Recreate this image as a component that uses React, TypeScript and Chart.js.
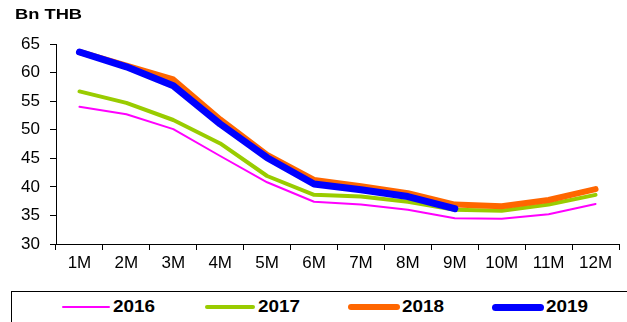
import React, { useEffect, useRef } from 'react';
import { Chart, registerables } from 'chart.js';

Chart.register(...registerables);

const months = ['1M', '2M', '3M', '4M', '5M', '6M', '7M', '8M', '9M', '10M', '11M', '12M'];
const s2016 = [54.0, 52.7, 50.1, 45.4, 40.8, 37.4, 36.9, 36.0, 34.5, 34.4, 35.2, 37.0];
const s2017 = [56.7, 54.7, 51.7, 47.6, 41.9, 38.6, 38.3, 37.4, 36.0, 35.8, 36.9, 38.6];
const s2018 = [63.6, 61.2, 58.8, 51.8, 45.6, 41.2, 40.1, 38.9, 36.9, 36.6, 37.7, 39.6];
const s2019 = [63.6, 61.0, 57.7, 51.0, 45.1, 40.5, 39.5, 38.3, 36.2, null, null, null];
const yTicks = [30, 35, 40, 45, 50, 55, 60, 65];

const seriesNames = ['2016', '2017', '2018', '2019'];
const seriesColors = ['#FF00FF', '#99CC00', '#FF6600', '#0000FF'];
const seriesWidths = [2, 4, 6, 7];

const FONT = '"Liberation Sans", Arial, sans-serif';

const legendPos = [
  { line: 62, lineW: 48, text: 113 },
  { line: 205, lineW: 50, text: 258 },
  { line: 348, lineW: 52, text: 402 },
  { line: 492, lineW: 52, text: 546 },
];

export default function App() {
  const ref = useRef<HTMLCanvasElement>(null);

  useEffect(() => {
    const values = [s2016, s2017, s2018, s2019];
    const chart = new Chart(ref.current!, {
      type: 'line',
      data: {
        labels: months,
        datasets: values.map((v, i) => ({
          label: seriesNames[i],
          data: v,
          borderColor: seriesColors[i],
          backgroundColor: seriesColors[i],
          borderWidth: seriesWidths[i],
          pointRadius: 0,
          tension: 0,
          fill: false,
          borderCapStyle: 'round' as const,
          borderJoinStyle: 'round' as const,
          order: 3 - i,
        })),
      },
      options: {
        animation: false,
        responsive: false,
        devicePixelRatio: 1,
        layout: { padding: { left: 0, top: 44, right: 8, bottom: 0 } },
        plugins: { legend: { display: false }, tooltip: { enabled: false } },
        scales: {
          x: {
            offset: true,
            grid: { offset: true, drawOnChartArea: false, tickLength: 6, color: '#000' },
            border: { color: '#000', width: 1 },
            ticks: { color: '#000', font: { family: FONT, size: 17 }, padding: 3, maxRotation: 0, autoSkip: false },
            afterFit: (s: any) => { s.height = 46; },
          },
          y: {
            min: 30,
            max: 65,
            afterBuildTicks: (s: any) => { s.ticks = yTicks.map((v) => ({ value: v })); },
            grid: { drawOnChartArea: false, tickLength: 6, color: '#000' },
            border: { color: '#000', width: 1 },
            ticks: { color: '#000', font: { family: FONT, size: 17 }, padding: 10 },
            afterFit: (s: any) => { s.width = 56; },
          },
        },
      },
    });
    return () => chart.destroy();
  }, []);

  return (
    <div style={{ position: 'absolute', left: 0, top: 0, width: 627, height: 322, background: '#fff', overflow: 'hidden', fontFamily: FONT }}>
      <canvas ref={ref} width={627} height={290} style={{ position: 'absolute', left: 0, top: 0 }} />
      <div style={{ position: 'absolute', left: 15, top: 5, fontWeight: 'bold', fontSize: 15, lineHeight: '18px', color: '#000', transform: 'scaleX(1.22)', transformOrigin: 'left center', whiteSpace: 'nowrap' }}>Bn THB</div>
      <div style={{ position: 'absolute', left: 11, top: 291, width: 700, height: 60, border: '1px solid #000', boxSizing: 'border-box' }} />
      {seriesNames.map((n, i) => (
        <React.Fragment key={n}>
          <div style={{
            position: 'absolute', left: legendPos[i].line, width: legendPos[i].lineW,
            top: 307 - seriesWidths[i] / 2, height: seriesWidths[i],
            borderRadius: seriesWidths[i] / 2, background: seriesColors[i],
          }} />
          <div style={{ position: 'absolute', left: legendPos[i].text, top: 297, lineHeight: '20px', fontSize: 17, fontWeight: 'bold', color: '#000', transform: 'scaleX(1.11)', transformOrigin: 'left center' }}>{n}</div>
        </React.Fragment>
      ))}
    </div>
  );
}
